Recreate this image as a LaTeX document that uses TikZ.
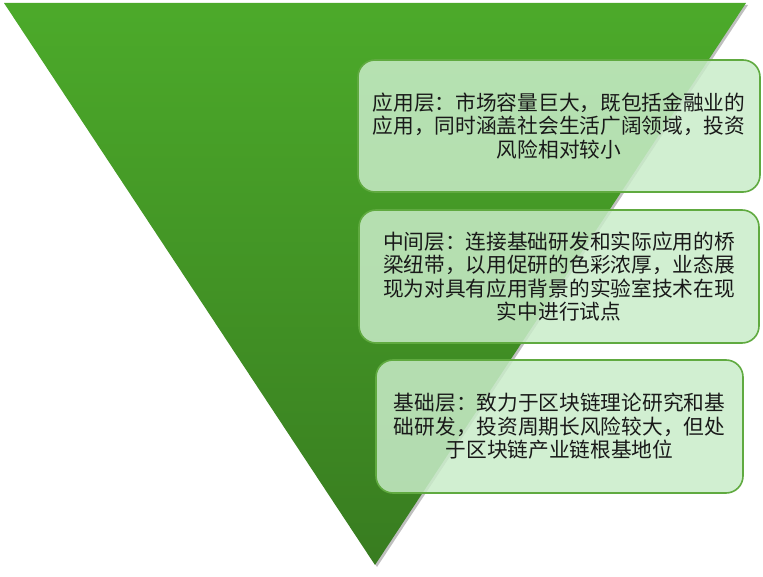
\documentclass[tikz,border=0pt]{standalone}
\usepackage{fontspec}
\newfontfamily\cjk{Noto Sans CJK SC}
\usetikzlibrary{shadows}
\definecolor{trtop}{RGB}{76,170,42}
\definecolor{trbot}{RGB}{56,124,32}
\definecolor{boxfill}{RGB}{201,236,201}
\definecolor{boxline}{RGB}{96,170,64}
\tikzset{layer/.style={draw=boxline,line width=1.6pt,fill=boxfill,fill opacity=0.85,text opacity=1,
    rounded corners=17pt,align=center,inner sep=0pt,text=black!90,
    font=\cjk\fontsize{20.7}{23.5}\selectfont}}

\begin{document}
\begin{tikzpicture}[x=1pt,y=1pt]
   \useasboundingbox (0,0) rectangle (763,576);
   \fill[black,opacity=0.25] (6,571) -- (748,571) -- (377,9) -- cycle;
   \shade[top color=trtop,bottom color=trbot] (4,573) -- (746,573) -- (375,11) -- cycle;

   \node[layer,minimum width=402pt,minimum height=132pt] (app) at (559,450)
      {应用层：市场容量巨大，既包括金融业的\\应用，同时涵盖社会生活广阔领域，投资\\风险相对较小};
   \node[layer,minimum width=400pt,minimum height=133pt] (mid) at (559,299.5)
      {中间层：连接基础研发和实际应用的桥\\梁纽带，以用促研的色彩浓厚，业态展\\现为对具有应用背景的实验室技术在现\\实中进行试点};
   \node[layer,minimum width=367pt,minimum height=133pt] (base) at (559.5,149.5)
      {基础层：致力于区块链理论研究和基\\础研发，投资周期长风险较大，但处\\于区块链产业链根基地位};
  \end{tikzpicture}
\end{document}
